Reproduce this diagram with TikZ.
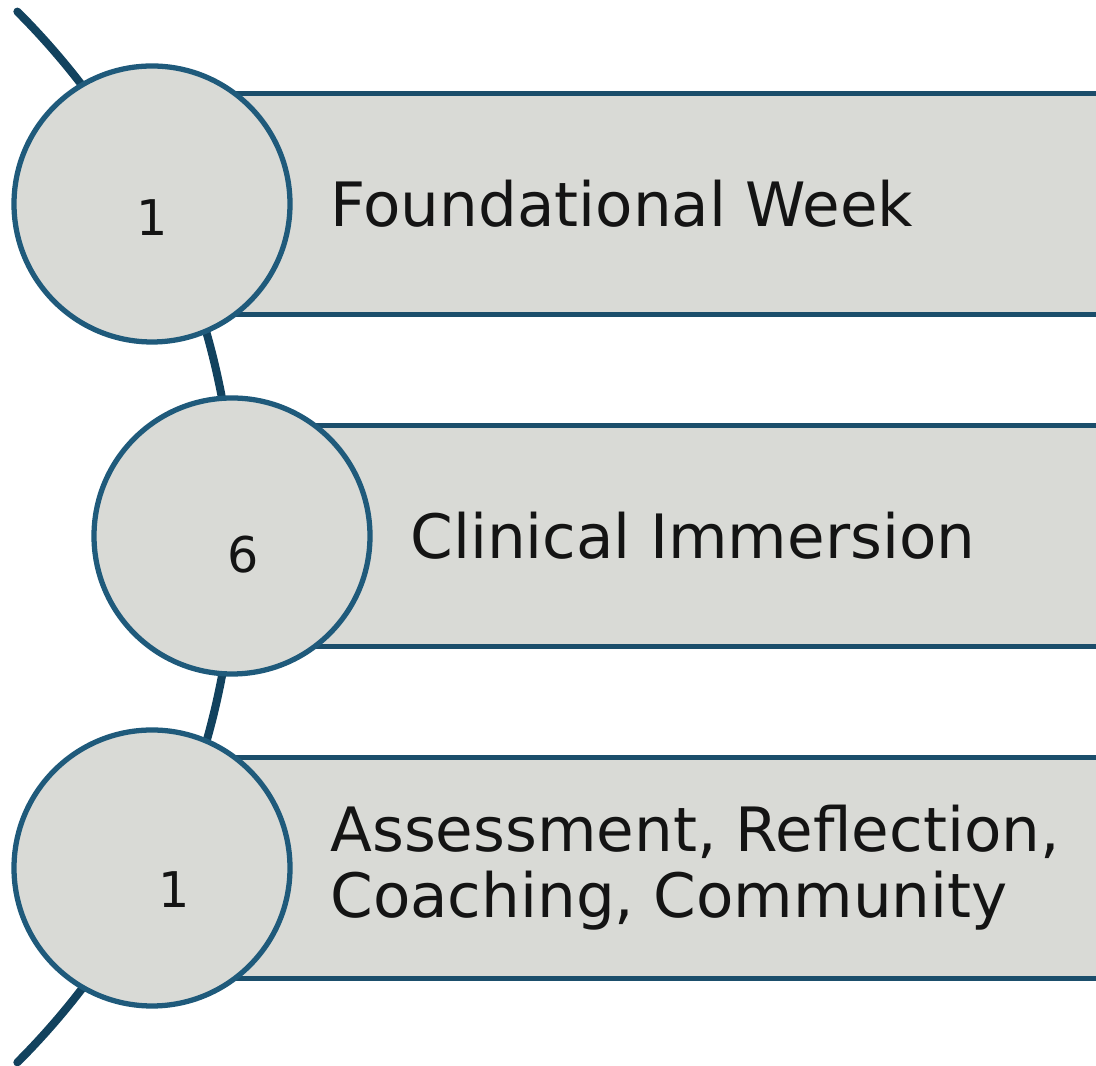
\documentclass[tikz,border=0pt]{standalone}
\usepackage{fontspec}
\setmainfont{DejaVu Sans}
\usetikzlibrary{positioning}
\definecolor{ringblue}{HTML}{1F5A7B}
\definecolor{barblue}{HTML}{1B4E6B}
\definecolor{arcblue}{HTML}{12425E}
\definecolor{stepgray}{HTML}{D9DAD6}
\definecolor{inkgray}{HTML}{141414}
\begin{document}
\begin{tikzpicture}[
ring/.style={shape=circle, draw=ringblue, fill=stepgray, line width=1.5pt, minimum size=2.76cm, inner sep=0pt},
bar/.style={shape=rectangle, draw=barblue, fill=stepgray, line width=1.4pt, minimum height=2.21cm, minimum width=9.8cm, anchor=west, inner sep=0pt},
num/.style={font=\fontsize{14}{16}\selectfont, text=inkgray, inner sep=0pt},
txt/.style={font=\fontsize{17.4}{18.8}\selectfont, text=inkgray, align=left, inner sep=0pt, anchor=west}
]
\clip (0,0) rectangle (10.96,-10.66);
% timeline arc
\draw[arcblue, line width=2.3pt, line cap=round] (-5.08,-5.37) ++(45:7.43) arc[start angle=45, end angle=-45, radius=7.43];
% bars
\node[bar] (b1) at (1.52,-2.04) {};
\node[bar] (b2) at (2.32,-5.36) {};
\node[bar] (b3) at (1.52,-8.68) {};
% circles
\node[ring] (c1) at (1.52,-2.04) {};
\node[ring] (c2) at (2.32,-5.36) {};
\node[ring] (c3) at (1.52,-8.68) {};
\node[num] (n1) at (1.52,-2.18) {1};
\node[num] (n2) at (2.43,-5.55) {6};
\node[num] (n3) at (1.74,-8.90) {1};
% labels
\node[txt, right=0.37cm of c1] (t1) {Foundational Week};
\node[txt, right=0.37cm of c2] (t2) {Clinical Immersion};
\node[txt, right=0.37cm of c3] (t3) {Assessment, Reflection,\\Coaching, Community};
\end{tikzpicture}
\end{document}
